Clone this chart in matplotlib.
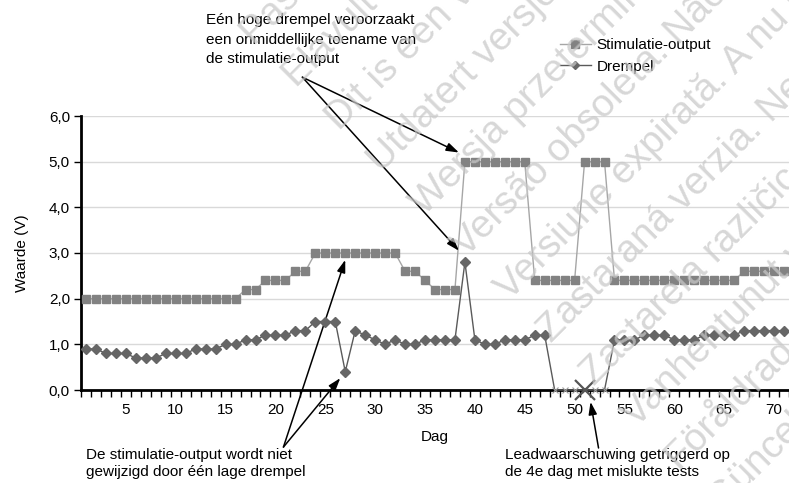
import matplotlib.pyplot as plt
from matplotlib.lines import Line2D

plt.rcParams['font.family'] = ['Liberation Sans', 'DejaVu Sans']

W, H = 789, 483

dagen = list(range(1, 72))

stimulatie = [2.0, 2.0, 2.0, 2.0, 2.0, 2.0, 2.0, 2.0, 2.0, 2.0,
              2.0, 2.0, 2.0, 2.0, 2.0, 2.0, 2.2, 2.2, 2.4, 2.4,
              2.4, 2.6, 2.6, 3.0, 3.0, 3.0, 3.0, 3.0, 3.0, 3.0,
              3.0, 3.0, 2.6, 2.6, 2.4, 2.2, 2.2, 2.2, 5.0, 5.0,
              5.0, 5.0, 5.0, 5.0, 5.0, 2.4, 2.4, 2.4, 2.4, 2.4,
              5.0, 5.0, 5.0, 2.4, 2.4, 2.4, 2.4, 2.4, 2.4, 2.4,
              2.4, 2.4, 2.4, 2.4, 2.4, 2.4, 2.6, 2.6, 2.6, 2.6,
              2.6]

drempel = [0.9, 0.9, 0.8, 0.8, 0.8, 0.7, 0.7, 0.7, 0.8, 0.8,
           0.8, 0.9, 0.9, 0.9, 1.0, 1.0, 1.1, 1.1, 1.2, 1.2,
           1.2, 1.3, 1.3, 1.5, 1.5, 1.5, 0.4, 1.3, 1.2, 1.1,
           1.0, 1.1, 1.0, 1.0, 1.1, 1.1, 1.1, 1.1, 2.8, 1.1,
           1.0, 1.0, 1.1, 1.1, 1.1, 1.2, 1.2, 0.0, 0.0, 0.0,
           0.0, 0.0, 0.0, 1.1, 1.1, 1.1, 1.2, 1.2, 1.2, 1.1,
           1.1, 1.1, 1.2, 1.2, 1.2, 1.2, 1.3, 1.3, 1.3, 1.3,
           1.3]

# dagen met mislukte tests, en de dag waarop de waarschuwing afgaat
mislukt = [48, 49, 50, 51, 52, 53]
waarschuwing_dag = 51

y_ticks = [0, 1, 2, 3, 4, 5, 6]
y_labels = ['0,0', '1,0', '2,0', '3,0', '4,0', '5,0', '6,0']
x_ticks = [5, 10, 15, 20, 25, 30, 35, 40, 45, 50, 55, 60, 65, 70]

watermerk = ['Pasenusi versija. Nenaudokite.',
             'Elavult verzió. Ne használja!',
             'Dit is een verouderde versie. Niet gebruiken.',
             'Utdatert versjon. Skal ikke brukes.',
             'Wersja przeterminowana. Nie używać.',
             'Versão obsoleta. Não utilize.',
             'Versiune expirată. A nu se utiliza.',
             'Zastaraná verzia. Nepoužívať.',
             'Zastarela različica. Ne uporabite.',
             'Vanhentunut versio. Älä käytä.',
             'Föråldrad version. Använd ej.',
             'Güncel olmayan sürüm. Kullanmayın.']


def px(x, y):
    return x / W, 1 - y / H


fig = plt.figure(figsize=(W / 100, H / 100), dpi=100)
ax = fig.add_axes([81 / W, 1 - 390 / H, 1 - 81 / W, (390 - 116) / H])

ax.plot(dagen, stimulatie, color='#a6a6a6', lw=1, marker='s', ms=5.5,
        mfc='#828282', mec='#828282', zorder=3, clip_on=False)

normaal = [i for i, d in enumerate(dagen) if d not in mislukt]
ax.plot(dagen, drempel, color='#5a5a5a', lw=1, marker='D', ms=4.6,
        mfc='#666666', mec='#666666', markevery=normaal, zorder=4, clip_on=False)

nul = [drempel[dagen.index(d)] for d in mislukt]
ax.plot(mislukt, nul, ls='none', marker='x', ms=5, mew=0.8, color='#9a9a9a',
        zorder=5, clip_on=False)
ax.plot([waarschuwing_dag], [drempel[dagen.index(waarschuwing_dag)]], ls='none',
        marker='x', ms=15, mew=1.6, color='#555555', zorder=6, clip_on=False)

ax.set_xlim(0.5, 71.5)
ax.set_ylim(0, 6)
ax.set_yticks(y_ticks)
ax.set_yticklabels(y_labels)
ax.set_xticks(x_ticks)
ax.set_xticks([d - 0.5 for d in dagen] + [71.5], minor=True)
ax.tick_params(axis='x', which='major', length=0, labelsize=11, pad=9)
ax.tick_params(axis='x', which='minor', length=5, width=1, direction='out')
ax.tick_params(axis='y', length=5, width=1, direction='out', labelsize=11, pad=3)

ax.yaxis.grid(True, color='#d9d9d9', lw=1)
ax.set_axisbelow(True)
for s in ['top', 'right']:
    ax.spines[s].set_visible(False)
for s in ['left', 'bottom']:
    ax.spines[s].set_linewidth(2)
    ax.spines[s].set_zorder(2.5)

ax.set_xlabel('Dag', fontsize=11, labelpad=10)
ax.set_ylabel('Waarde (V)', fontsize=11, labelpad=14)

pijl = dict(arrowstyle='-|>,head_length=0.75,head_width=0.25', color='black',
            lw=1.1, shrinkA=0, shrinkB=0)
for doel in [(38.4, 5.2), (38.4, 3.05)]:
    ax.annotate('', xy=doel, xytext=(22.7, 6.85), arrowprops=pijl,
                annotation_clip=False)
for doel in [(27.0, 2.85), (26.5, 0.26)]:
    ax.annotate('', xy=doel, xytext=(20.8, -1.25), arrowprops=pijl,
                annotation_clip=False)
ax.annotate('', xy=(51.6, -0.26), xytext=(52.4, -1.27), arrowprops=pijl,
            annotation_clip=False)

fig.text(*px(206, 13), 'Eén hoge drempel veroorzaakt\neen onmiddellijke toename van\n'
         'de stimulatie-output', fontsize=11, va='top', ha='left', linespacing=1.52)
fig.text(*px(86, 448), 'De stimulatie-output wordt niet\ngewijzigd door één lage drempel',
         fontsize=11, va='top', ha='left', linespacing=1.3)
fig.text(*px(505, 448), 'Leadwaarschuwing getriggerd op\nde 4e dag met mislukte tests',
         fontsize=11, va='top', ha='left', linespacing=1.3)

handles = [Line2D([], [], color='#a6a6a6', lw=1, marker='s', ms=5.5,
                  mfc='#828282', mec='#828282'),
           Line2D([], [], color='#5a5a5a', lw=1, marker='D', ms=4.0,
                  mfc='#666666', mec='#666666')]
fig.legend(handles, ['Stimulatie-output', 'Drempel'], loc='upper left',
           bbox_to_anchor=px(560, 38), frameon=False, fontsize=11,
           handlelength=2.0, handletextpad=0.4, labelspacing=0.5,
           borderpad=0, borderaxespad=0)

# schuine watermerkregels
for k, regel in enumerate(watermerk):
    s = 300 + 85 * k
    x0 = (s + 208) / 2
    y0 = (s - 208) / 2
    fig.text(*px(x0, y0), regel, fontsize=28, rotation=45, rotation_mode='anchor',
             ha='left', va='baseline', color='#c8c8c8', alpha=0.72, zorder=10)

fig.savefig('out.png', dpi=100)
